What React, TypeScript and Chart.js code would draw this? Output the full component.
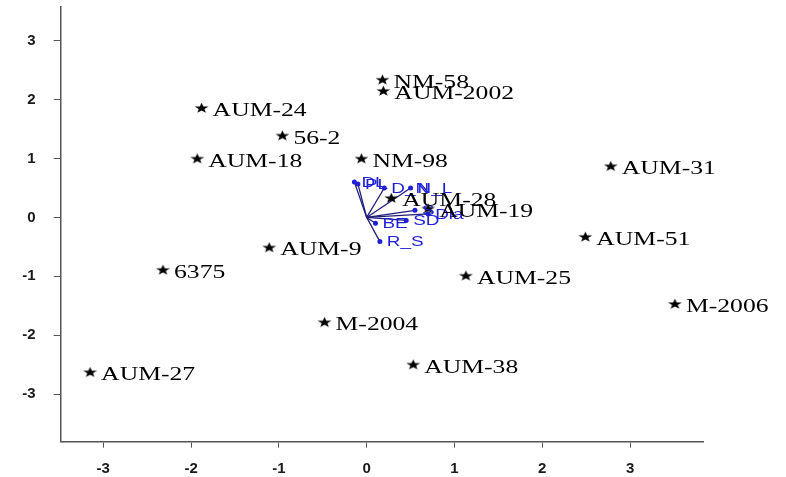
import React, { useEffect, useRef } from "react";
import { Chart, registerables } from "chart.js";

Chart.register(...registerables);

// Sample scores (PC1, PC2)
const SAMPLES = ["AUM-24", "56-2", "AUM-18", "NM-98", "NM-58", "AUM-2002", "AUM-31", "AUM-51", "AUM-28", "AUM-19", "AUM-9", "6375", "M-2004", "AUM-27", "AUM-38", "AUM-25", "M-2006"];
const PC1 = [-1.88, -0.96, -1.93, -0.06, 0.18, 0.19, 2.78, 2.49, 0.28, 0.70, -1.11, -2.32, -0.48, -3.15, 0.53, 1.13, 3.51];
const PC2 = [1.86, 1.39, 1.0, 1.0, 2.34, 2.15, 0.87, -0.33, 0.33, 0.15, -0.51, -0.89, -1.78, -2.63, -2.5, -0.99, -1.47];

// Trait loadings (vectors)
const TRAITS = ["DL", "PL", "D_N", "N_L", "BE", "SD", "S", "Dia", "R_S"];
const LOAD1 = [-0.14, -0.1, 0.2, 0.5, 0.1, 0.45, 0.55, 0.7, 0.15];
const LOAD2 = [0.6, 0.57, 0.5, 0.5, -0.1, -0.05, 0.12, 0.06, -0.41];

const X_TICKS = [-3, -2, -1, 0, 1, 2, 3];
const Y_TICKS = [-3, -2, -1, 0, 1, 2, 3];
const X_MIN = -3.485, X_MAX = 3.836;
const Y_MIN = -3.81, Y_MAX = 3.575;

const BLUE = "#1f1fd6";
const LINE = "#20207a";

function makeStar(): HTMLCanvasElement {
  const c = document.createElement("canvas");
  c.width = 15;
  c.height = 12;
  const ctx = c.getContext("2d")!;
  ctx.fillStyle = "#000";
  ctx.beginPath();
  const cx = 7.5, cy = 6.3, R = 5.6, r = 2.3, sx = 1.3;
  for (let i = 0; i < 10; i++) {
    const a = -Math.PI / 2 + (i * Math.PI) / 5;
    const rad = i % 2 === 0 ? R : r;
    const x = cx + Math.cos(a) * rad * sx;
    const y = cy + Math.sin(a) * rad;
    if (i === 0) ctx.moveTo(x, y);
    else ctx.lineTo(x, y);
  }
  ctx.closePath();
  ctx.fill();
  return c;
}

const labelPlugin = {
  id: "biplotLabels",
  afterDatasetsDraw(chart: any) {
    const ctx = chart.ctx;
    ctx.save();
    // trait labels
    ctx.fillStyle = BLUE;
    ctx.font = "14px 'Liberation Sans', Arial, sans-serif";
    ctx.textBaseline = "middle";
    TRAITS.forEach((t, i) => {
      const m = chart.getDatasetMeta(i + 1);
      const p = m.data[1];
      ctx.save();
      ctx.translate(p.x + 7, p.y + 1);
      ctx.scale(1.35, 1);
      ctx.fillText(t, 0, 0);
      ctx.restore();
    });
    // sample labels
    ctx.fillStyle = "#000";
    ctx.font = "19px 'Liberation Serif', 'Times New Roman', serif";
    const meta = chart.getDatasetMeta(0);
    meta.data.forEach((pt: any, i: number) => {
      ctx.save();
      ctx.translate(pt.x + 11, pt.y + 3);
      ctx.scale(1.35, 1);
      ctx.fillText(SAMPLES[i], 0, 0);
      ctx.restore();
    });
    ctx.restore();
  },
};

export default function App() {
  const ref = useRef<HTMLCanvasElement>(null);
  useEffect(() => {
    if (!ref.current) return;
    const star = makeStar();
    const datasets: any[] = [
      {
        label: "samples",
        data: PC1.map((x, i) => ({ x, y: PC2[i] })),
        pointStyle: star,
        pointRadius: 6,
        showLine: false,
      },
    ];
    TRAITS.forEach((t, i) => {
      datasets.push({
        label: t,
        data: [
          { x: 0, y: 0 },
          { x: LOAD1[i], y: LOAD2[i] },
        ],
        showLine: true,
        borderColor: LINE,
        borderWidth: 1.3,
        pointRadius: [0, 2.5],
        pointBackgroundColor: BLUE,
        pointBorderColor: BLUE,
        pointBorderWidth: 0,
      });
    });
    const tickFont = { family: "'Liberation Sans', Arial, sans-serif", size: 15, weight: "bold" };
    const chart = new Chart(ref.current, {
      type: "scatter",
      data: { datasets },
      options: {
        responsive: false,
        animation: false,
        layout: { padding: { left: 0, right: 82.5, top: 0, bottom: 0 } },
        plugins: { legend: { display: false }, tooltip: { enabled: false } },
        scales: {
          x: {
            type: "linear",
            min: X_MIN,
            max: X_MAX,
            afterBuildTicks: (s: any) => {
              s.ticks = X_TICKS.map((v) => ({ value: v }));
            },
            afterFit: (s: any) => {
              s.height = 35.3;
              s.paddingLeft = 0;
              s.paddingRight = 0;
            },
            ticks: { font: tickFont, color: "#1a1a1a", padding: 12, maxRotation: 0 },
            grid: { drawOnChartArea: false, drawTicks: true, tickLength: 6, color: "#555", lineWidth: 1 },
            border: { display: true, color: "#555", width: 1.5 },
          },
          y: {
            type: "linear",
            min: Y_MIN,
            max: Y_MAX,
            afterBuildTicks: (s: any) => {
              s.ticks = Y_TICKS.map((v) => ({ value: v }));
            },
            afterFit: (s: any) => {
              s.width = 60.7;
              s.paddingTop = 0;
              s.paddingBottom = 0;
            },
            ticks: { font: tickFont, color: "#1a1a1a", padding: 18 },
            grid: { drawOnChartArea: false, drawTicks: true, tickLength: 7, color: "#555", lineWidth: 1 },
            border: { display: true, color: "#555", width: 1.5 },
          },
        },
      },
      plugins: [labelPlugin],
    } as any);
    return () => chart.destroy();
  }, []);
  return (
    <div style={{ position: "fixed", left: 0, top: 0, width: 786, height: 477, background: "#fff" }}>
      <canvas ref={ref} width={786} height={477} style={{ display: "block" }} />
    </div>
  );
}
